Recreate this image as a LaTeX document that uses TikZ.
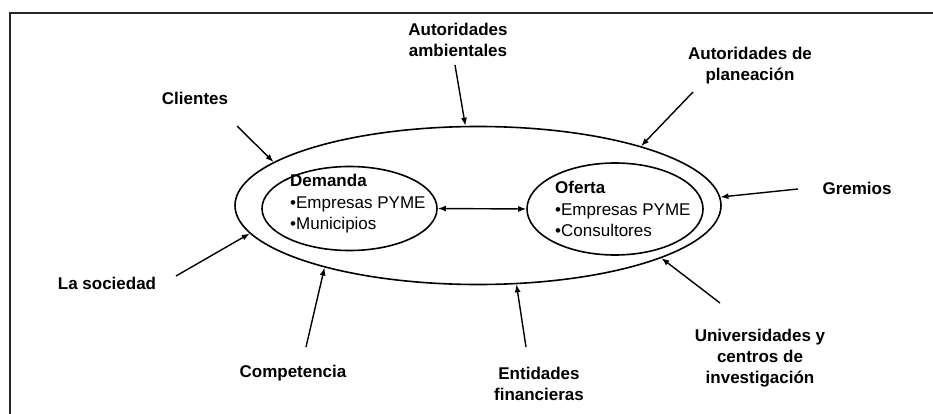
\documentclass[tikz,border=0pt]{standalone}
\usepackage{fontspec}
\setmainfont{Liberation Sans}
\usetikzlibrary{shapes.geometric,arrows.meta}
\tikzset{
  lbl/.style={font=\fontsize{17}{21}\selectfont\bfseries, align=center, inner sep=0pt},
  inner/.style={font=\fontsize{17}{21.5}\selectfont, align=left, inner sep=0pt, anchor=north west},
  ell/.style={draw, ellipse, line width=1.6pt, inner sep=0pt},
  arr/.style={line width=1.4pt, -{Latex[length=8pt,width=6pt]}},
  frame/.style={line width=1.8pt, draw=black!85}
}
\begin{document}
\begin{tikzpicture}[x=1pt,y=-1pt]
\useasboundingbox (0,0) rectangle (933,414);
\draw[frame] (10,414) -- (10,13) -- (933,13);
% ellipses
\node[ell, minimum width=486pt, minimum height=158pt] (outer) at (478,205.5) {};
\node[ell, minimum width=175pt, minimum height=84pt] (dem) at (349.5,208.5) {};
\node[ell, minimum width=176pt, minimum height=92pt] (ofe) at (615,209) {};
% inner texts
\node[inner] (demt) at (290,174) {\textbf{Demanda}\\•Empresas PYME\\•Municipios};
\node[inner] (ofet) at (555,181) {\textbf{Oferta}\\•Empresas PYME\\•Consultores};
\draw[line width=1.4pt, {Latex[length=8pt,width=6pt]}-{Latex[length=8pt,width=6pt]}] (dem.east) -- (ofe.west);
% labels
\node[lbl] (aa) at (458,40) {Autoridades\\ambientales};
\node[lbl] (ap) at (750,66) {Autoridades de\\planeación};
\node[lbl] (cl) at (195,98) {Clientes};
\node[lbl] (gr) at (857,188) {Gremios};
\node[lbl] (ls) at (107,283) {La sociedad};
\node[lbl] (co) at (293,373) {Competencia};
\node[lbl] (en) at (539,384) {Entidades\\financieras};
\node[lbl] (un) at (760,358) {Universidades y\\centros de\\investigación};
% arrow tails
\coordinate (aat) at (455,65);
\coordinate (apt) at (693,92);
\coordinate (clt) at (237,126);
\coordinate (grt) at (798,189);
\coordinate (lst) at (176,276);
\coordinate (cot) at (306,347);
\coordinate (ent) at (526,347);
\coordinate (unt) at (720,303);
% arrows
\draw[arr] (aat) -- (outer.99);
\draw[arr] (apt) -- (outer.20);
\draw[arr] (clt) -- (outer.168);
\draw[arr] (grt) -- (outer.2);
\draw[arr] (lst) -- (outer.187);
\draw[arr] (cot) -- (outer.202);
\draw[arr] (ent) -- (outer.296);
\draw[arr] (unt) -- (outer.344);
\end{tikzpicture}
\end{document}
